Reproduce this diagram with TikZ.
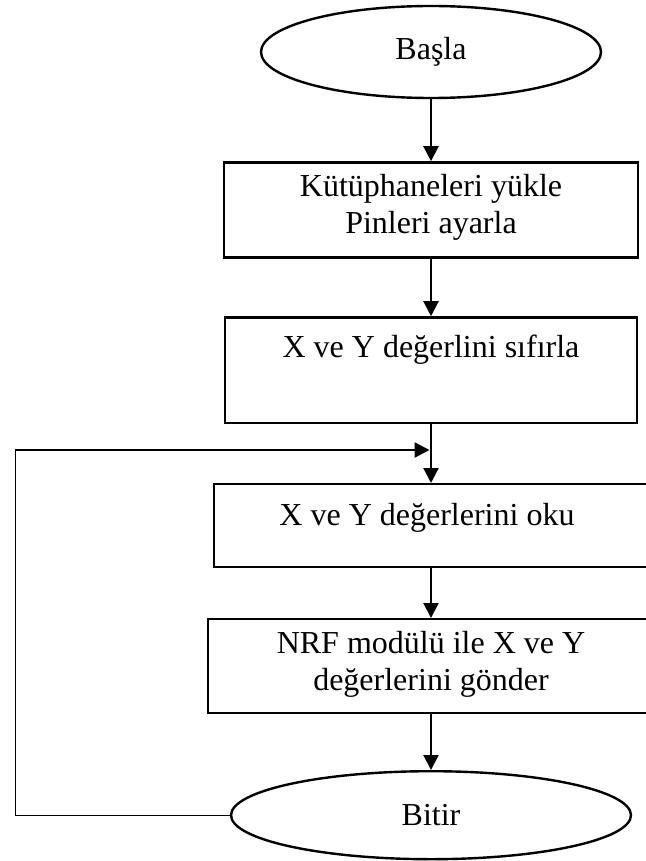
\documentclass[tikz,border=0pt]{standalone}
\usepackage{fontspec}
\setmainfont{Liberation Serif}
\usetikzlibrary{arrows.meta, positioning, shapes.geometric}

\begin{document}
\begin{tikzpicture}[
    x=1pt, y=1pt,
    node distance=58pt,
    every node/.style={font=\fontsize{32}{37}\selectfont},
    term/.style={draw, ellipse, line width=2.4pt, inner sep=0pt},
    proc/.style={draw, rectangle, line width=2.4pt, align=center, inner sep=0pt,
                 execute at begin node=\strut},
    flow/.style={-{Triangle[length=15pt, width=15pt]}, line width=2.2pt}
  ]
    \useasboundingbox (0,0) rectangle (645,-861);

    \node[term, minimum width=340pt, minimum height=92pt] (start) at (431,-52) {Başla};
    \node[proc, minimum width=414pt, minimum height=95pt, below=62pt of start] (libs) {
      Kütüphaneleri yükle\\Pinleri ayarla
    };
    \node[proc, minimum width=412pt, minimum height=105.4pt, below=57.6pt of libs] (reset) {
      X ve Y değerlini sıfırla\\\strut
    };
    \node[proc, minimum width=434pt, minimum height=83pt, text depth=27pt, below=59pt of reset] (read) {
      X ve Y değerlerini oku
    };
    \node[proc, minimum width=446pt, minimum height=94pt, below=49.6pt of read] (send) {
      NRF modülü ile X ve Y\\değerlerini gönder
    };
    \node[term, minimum width=400pt, minimum height=88pt, below=55.6pt of send] (finish) {Bitir};

    % main flow
    \draw[flow] (start) -- (libs);
    \draw[flow] (libs) -- (reset);
    \draw[flow] (reset) -- (read);
    \draw[flow] (read) -- (send);
    \draw[flow] (send) -- (finish);

    % loop back
    \coordinate (back) at (15,-450);
    \draw[line width=1pt] (finish.west) -| (back);
    \draw[flow, shorten >=1.5pt] (back) -- (back -| reset.south);
  \end{tikzpicture}
\end{document}
